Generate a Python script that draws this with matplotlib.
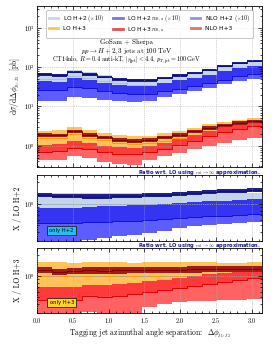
import numpy as np
import matplotlib
matplotlib.use('Agg')
import matplotlib.pyplot as plt
from matplotlib.lines import Line2D
from matplotlib.ticker import MultipleLocator, LogLocator, NullFormatter

plt.rcParams['font.family'] = 'serif'
plt.rcParams['font.serif'] = ['cmr10', 'DejaVu Serif']
plt.rcParams['mathtext.fontset'] = 'cm'
plt.rcParams['axes.formatter.use_mathtext'] = True
plt.rcParams['axes.unicode_minus'] = False

# 15 bins in delta phi between 0 and pi
edges = np.linspace(0, np.pi, 16)

# H+2 (pb, drawn x10)
lo2 = [4.98, 4.85, 5.88, 5.22, 4.45, 3.86, 3.58, 3.52, 4.04, 4.53, 5.04, 5.98, 7.07, 8.43, 9.31]
lo2_hi = [7.02, 6.84, 8.29, 7.36, 6.27, 5.44, 5.05, 4.96, 5.70, 6.39, 7.11, 8.43, 9.97, 11.9, 13.1]
lo2_lo = [3.78, 3.69, 4.47, 3.97, 3.38, 2.93, 2.72, 2.68, 3.07, 3.44, 3.83, 4.54, 5.37, 6.41, 7.08]

lo2mt = [6.53, 6.16, 7.47, 6.53, 5.56, 4.86, 4.58, 4.58, 5.37, 6.16, 7.05, 8.61, 10.5, 12.7, 14.3]
lo2mt_hi = [6.99, 6.59, 7.99, 6.99, 5.95, 5.20, 4.90, 4.90, 5.75, 6.59, 7.54, 9.21, 11.2, 13.6, 15.3]
lo2mt_lo = [6.11, 5.76, 6.98, 6.11, 5.20, 4.54, 4.28, 4.28, 5.02, 5.76, 6.59, 8.05, 9.82, 11.9, 13.4]

nlo2 = [2.64, 2.57, 3.18, 2.87, 2.49, 2.20, 2.08, 2.11, 2.46, 2.85, 3.23, 3.95, 4.74, 5.82, 6.61]
nlo2_hi = [4.33, 4.22, 5.17, 4.70, 4.05, 3.59, 3.40, 3.41, 4.00, 4.62, 5.24, 6.40, 7.78, 9.53, 10.8]
nlo2_lo = [1.39, 1.36, 1.71, 1.62, 1.47, 1.35, 1.32, 1.37, 1.70, 2.04, 2.42, 2.99, 3.68, 4.55, 5.12]

# H+3 (pb)
lo3 = [1.55, 1.59, 1.97, 1.59, 1.37, 1.18, 1.11, 1.16, 1.34, 1.55, 1.87, 2.25, 2.63, 2.99, 3.29]
lo3_hi = [2.42, 2.48, 3.07, 2.48, 2.14, 1.84, 1.73, 1.81, 2.09, 2.42, 2.92, 3.51, 4.10, 4.66, 5.13]
lo3_lo = [1.07, 1.10, 1.36, 1.10, 0.95, 0.81, 0.77, 0.80, 0.92, 1.07, 1.29, 1.55, 1.81, 2.06, 2.27]

lo3mt = [1.91, 1.83, 2.32, 1.91, 1.64, 1.42, 1.34, 1.42, 1.64, 1.91, 2.32, 2.81, 3.31, 3.80, 4.18]
lo3mt_hi = [2.12, 2.03, 2.57, 2.12, 1.82, 1.58, 1.49, 1.58, 1.82, 2.12, 2.57, 3.12, 3.67, 4.22, 4.64]
lo3mt_lo = [1.72, 1.65, 2.09, 1.72, 1.48, 1.28, 1.21, 1.28, 1.48, 1.72, 2.09, 2.53, 2.98, 3.42, 3.76]

nlo3 = [0.705, 0.723, 0.896, 0.827, 0.699, 0.625, 0.622, 0.684, 0.844, 1.054, 1.346, 1.733, 2.183, 2.661, 3.126]
nlo3_hi = [1.07, 1.10, 1.36, 1.18, 1.01, 0.909, 0.888, 0.974, 1.19, 1.47, 1.87, 2.39, 2.95, 3.53, 4.05]
nlo3_lo = [0.434, 0.445, 0.552, 0.493, 0.397, 0.342, 0.322, 0.429, 0.536, 0.667, 0.823, 1.01, 1.21, 1.39, 1.55]

# colours
c_lo2, c_lo2_line = '#c5d5e9', '#a9c1dd'
c_mt2, c_mt2_line = '#1e1e8e', '#121272'
c_nlo2_up, c_nlo2_dn, c_nlo2_line = '#3434f2', '#5c5cff', '#1010e0'
c_lo3, c_lo3_line = '#ffc35a', '#f5a000'
c_mt3, c_mt3_line = '#a31a1a', '#800000'
c_nlo3_up, c_nlo3_dn, c_nlo3_line = '#ff3a3a', '#ff6262', '#e00000'


def band(ax, low, high, color):
    ax.stairs(high, edges, baseline=low, fill=True, color=color, lw=0)


def line(ax, vals, color, lw=0.7):
    ax.stairs(vals, edges, color=color, lw=lw)


def draw_h2(ax, scale):
    f = lambda v: np.array(v) * scale
    band(ax, f(lo2_lo), f(lo2_hi), c_lo2)
    line(ax, f(lo2), c_lo2_line)
    band(ax, f(nlo2_lo), f(nlo2), c_nlo2_dn)
    band(ax, f(nlo2), f(nlo2_hi), c_nlo2_up)
    line(ax, f(nlo2), c_nlo2_line)
    band(ax, f(lo2mt_lo), f(lo2mt_hi), c_mt2)
    line(ax, f(lo2mt), c_mt2_line)


def draw_h3(ax, scale):
    f = lambda v: np.array(v) * scale
    band(ax, f(lo3_lo), f(lo3_hi), c_lo3)
    line(ax, f(lo3), c_lo3_line)
    band(ax, f(nlo3_lo), f(nlo3), c_nlo3_dn)
    band(ax, f(nlo3), f(nlo3_hi), c_nlo3_up)
    line(ax, f(nlo3), c_nlo3_line)
    band(ax, f(lo3mt_lo), f(lo3mt_hi), c_mt3)
    line(ax, f(lo3mt), c_mt3_line)


def style(ax):
    ax.set_xlim(0, np.pi)
    ax.xaxis.set_major_locator(MultipleLocator(0.5))
    ax.xaxis.set_minor_locator(MultipleLocator(0.1))
    ax.tick_params(which='both', direction='in', top=True, right=True,
                   labelsize=4.5, width=0.5, pad=2)
    ax.tick_params(which='major', length=3)
    ax.tick_params(which='minor', length=1.5)
    for sp in ax.spines.values():
        sp.set_linewidth(0.6)
    ax.grid(True, which='major', ls=':', lw=0.5, color='#aaaaaa')
    ax.set_axisbelow(False)


fig = plt.figure(figsize=(2.72, 3.45), dpi=100)
ax = fig.add_axes([0.136, 0.516, 0.827, 0.467])
ax_r2 = fig.add_axes([0.136, 0.301, 0.827, 0.192])
ax_r3 = fig.add_axes([0.136, 0.093, 0.827, 0.188])

# main panel
draw_h2(ax, 10.0)
draw_h3(ax, 1.0)
ax.set_yscale('log')
ax.set_ylim(0.29, 3600)
style(ax)
ax.tick_params(labelbottom=False)
ax.yaxis.set_minor_formatter(NullFormatter())
ax.set_ylabel(r'd$\sigma$/d$\Delta\phi_{j_1,j_2}$  [pb]', fontsize=5.5, labelpad=1)

handles = [
    Line2D([], [], color='#c5d5e9', lw=2),
    Line2D([], [], color='#ffc35a', lw=2),
    Line2D([], [], color='#7474ee', lw=2),
    Line2D([], [], color='#e05050', lw=2),
    Line2D([], [], color='#9494d8', lw=2),
    Line2D([], [], color='#e07070', lw=2),
]
labels = [r'LO H+2 $(\times 10)$', 'LO H+3',
          r'LO H+2 $m_{t,a}$ $(\times 10)$', r'LO H+3 $m_{t,a}$',
          r'NLO H+2 $(\times 10)$', 'NLO H+3']
leg = ax.legend(handles, labels, ncol=3, loc='upper center',
                frameon=True, fancybox=True, edgecolor='#999999',
                handlelength=1.6, columnspacing=1.6, borderpad=0.45,
                labelspacing=0.35, handletextpad=0.8,
                bbox_to_anchor=(0.5, 0.99), prop={'family': 'DejaVu Sans', 'size': 4.2})
leg.get_frame().set_linewidth(0.5)
leg.set_zorder(5)

tx = 0.4
ax.text(tx, 0.775, 'GoSam + Sherpa', transform=ax.transAxes, ha='center', va='center',
        fontsize=5)
ax.text(tx, 0.72, r'$pp\rightarrow H+2,3$ jets at 100 TeV', transform=ax.transAxes,
        ha='center', va='center', fontsize=5)
ax.text(tx, 0.665, r'CT14nlo, $R=0.4$ anti-kT, $|\eta_{\rm jet}|<4.4$, $p_{T,\rm jet}=100\,$GeV',
        transform=ax.transAxes, ha='center', va='center', fontsize=4.5)

# ratio panels: everything divided by the LO (m_t -> infinity) central value
for axr, draw, ref, lab, boxtxt, boxcol in [
        (ax_r2, draw_h2, lo2, 'X / LO H+2', 'only H+2', '#1fc0ef'),
        (ax_r3, draw_h3, lo3, 'X / LO H+3', 'only H+3', '#ffd21f')]:
    draw(axr, 1.0 / np.array(ref))
    axr.set_yscale('log')
    axr.set_ylim(0.3, 2.5)
    style(axr)
    axr.yaxis.set_major_locator(LogLocator(base=10))
    axr.yaxis.set_minor_formatter(NullFormatter())
    axr.axhline(1.0, color='#999999', ls=':', lw=0.5)
    axr.set_ylabel(lab, fontsize=5.5, labelpad=1)
    axr.text(0.11, 0.16, boxtxt, transform=axr.transAxes, ha='center', va='center',
             fontsize=3.8, family='DejaVu Sans',
             bbox=dict(boxstyle='square,pad=0.4', fc=boxcol, ec='#222222', lw=0.6))

ax_r2.tick_params(labelbottom=False)
ax_r3.set_xlabel(r'Tagging jet azimuthal angle separation:  $\Delta\phi_{j_1,j_2}$',
                 fontsize=5.5, labelpad=1)

rt = r'Ratio wrt. LO using $m_t\rightarrow\infty$ approximation.'
fig.text(0.958, 0.5, rt, ha='right', va='center', fontsize=3.7, color='#1a1a8c',
         weight='bold', family='DejaVu Sans')
fig.text(0.958, 0.288, rt, ha='right', va='center', fontsize=3.7, color='#1a1a8c',
         weight='bold', family='DejaVu Sans')

fig.savefig('out.png', dpi=100)
